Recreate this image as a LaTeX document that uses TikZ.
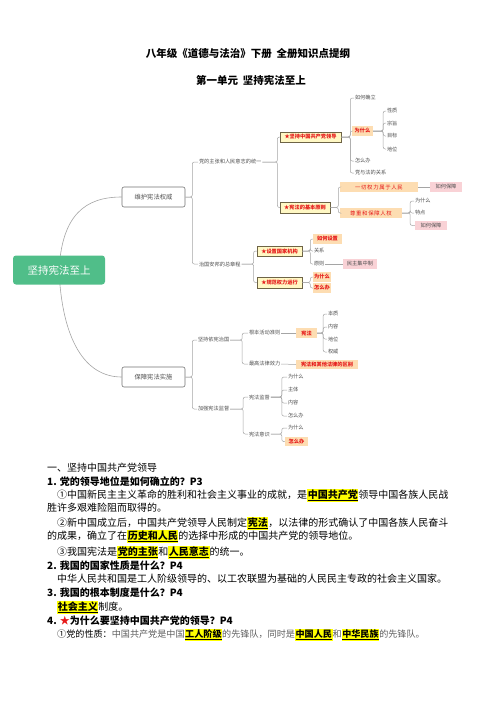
\documentclass[tikz,border=0pt]{standalone}
\usepackage{fontspec}
\setmainfont{Noto Sans CJK SC}
\usetikzlibrary{backgrounds}
\definecolor{rootg}{RGB}{80,190,137}
\definecolor{ln}{RGB}{165,165,165}
\definecolor{tx}{RGB}{80,80,80}
\definecolor{yelbox}{RGB}{255,248,196}
\definecolor{yelbd}{RGB}{110,100,70}
\definecolor{orbox}{RGB}{253,221,178}
\definecolor{pkbox}{RGB}{249,210,214}
\definecolor{hly}{RGB}{255,255,0}
\definecolor{redt}{RGB}{230,25,25}
\definecolor{gtx}{RGB}{95,95,95}
\newcommand\hlt[1]{{\setlength{\fboxsep}{0.6pt}\colorbox{hly}{\underline{\bfseries #1}}}}
\begin{document}
\begin{tikzpicture}[x=1pt,y=-1pt,
  conn/.style={draw=ln, line width=0.5pt, rounded corners=2pt},
  mt/.style={font=\fontsize{5.2}{6}\selectfont, text=tx, inner sep=0.8pt, anchor=west},
  ybox/.style={font=\fontsize{5.2}{6}\selectfont\bfseries, text=redt, fill=yelbox, draw=yelbd, line width=0.5pt, inner sep=0pt, minimum height=10.5pt},
  obox/.style={font=\fontsize{5.2}{6}\selectfont\bfseries, text=redt, fill=orbox, inner sep=0pt, minimum height=9.5pt},
  pbox/.style={font=\fontsize{5.2}{6}\selectfont, text=tx, fill=pkbox, inner sep=0pt, minimum height=9.5pt},
  l1box/.style={font=\fontsize{6.3}{7}\selectfont, text=tx, draw=gray!90!black, fill=white, rounded corners=2pt, line width=0.6pt, minimum width=63pt, minimum height=20pt, inner sep=0pt},
  rootbox/.style={fill=rootg, text=white, rounded corners=3pt, minimum width=92pt, minimum height=29pt, font=\fontsize{10.5}{12}\selectfont, inner sep=0pt},
  body/.style={font=\fontsize{10}{12}\selectfont, anchor=west, inner sep=0pt, text height=8pt, text depth=2pt},
  head/.style={body, font=\fontsize{10}{12}\selectfont\bfseries},
  ttl/.style={font=\fontsize{10.5}{12}\selectfont\bfseries, inner sep=0pt},
  ]
\useasboundingbox (0,0) rectangle (496,702);

% titles
\node[ttl] (t1) at (248,54) {八年级《道德与法治》下册\ \ 全册知识点提纲};
\node[ttl] (t2) at (251,80) {第一单元\ \ 坚持宪法至上};

% mind map
\node[rootbox] (root) at (59,270) {坚持宪法至上};
\node[l1box] (wh) at (153.5,197) {维护宪法权威};
\node[l1box] (bz) at (153.5,377) {保障宪法实施};
\begin{scope}[on background layer]
\fill[white] (0,0) rectangle (496,702);
\draw[ln, line width=0.6pt] (root.center) .. controls (62,215) and (85,197) .. (wh.west);
\draw[ln, line width=0.6pt] (root.center) .. controls (62,340) and (85,377) .. (bz.west);
\end{scope}

\node[mt] (a1) at (198,162) {党的主张和人民意志的统一};
\node[mt] (a2) at (198,264) {治国安邦的总章程};
\node[mt] (b1) at (197,340) {坚持依宪治国};
\node[mt] (b2) at (197,409) {加强宪法监督};
\foreach \c in {a1,a2} \draw[conn] (wh.east) -- ++(7,0) |- (\c.west);
\foreach \c in {b1,b2} \draw[conn] (bz.east) -- ++(7,0) |- (\c.west);

\node[ybox, minimum width=61pt] (c1) at (310.5,137) {★坚持中国共产党领导};
\node[ybox, minimum width=50pt] (c2) at (305,207.5) {★宪法的基本原则};
\node[ybox, minimum width=45pt] (c3) at (279.5,251) {★设置国家机构};
\node[ybox, minimum width=45pt] (c4) at (279.5,282.5) {★规范权力运行};
\foreach \c in {c1,c2} \draw[conn] (a1.east) -- ++(15,0) |- (\c.west);
\foreach \c in {c3,c4} \draw[conn] (a2.east) -- ++(12,0) |- (\c.west);

\node[mt] (d1) at (354,98) {如何确立};
\node[obox, minimum width=21pt] (d2) at (362.5,131) {为什么};
\node[mt] (d3) at (354,161) {怎么办};
\node[mt] (d4) at (354,173) {党与法的关系};
\foreach \c in {d1,d2,d3,d4} \draw[conn] (c1.east) -- ++(9,0) |- (\c.west);

\node[mt] (e1) at (386,111) {性质};
\node[mt] (e2) at (386,123) {宗旨};
\node[mt] (e3) at (386,136) {目标};
\node[mt] (e4) at (386,149) {地位};
\foreach \c in {e1,e2,e3,e4} \draw[conn] (d2.east) -- ++(10,0) |- (\c.west);

\node[obox, font=\fontsize{5.4}{6}\selectfont\addfontfeature{LetterSpace=12}, minimum width=78pt] (d5) at (379,187) {一切权力属于人民};
\node[obox, font=\fontsize{5.4}{6}\selectfont\addfontfeature{LetterSpace=12}, minimum width=62pt] (d6) at (371,213) {尊重和保障人权};
\foreach \c in {d5,d6} \draw[conn] (c2.east) -- ++(8,0) |- (\c.west);
\node[pbox, minimum width=32pt] (f1) at (446,187) {如何保障};
\draw[conn] (d5.east) -- (f1.west);

\node[mt] (f2) at (414,201) {为什么};
\node[mt] (f3) at (414,213) {特点};
\node[pbox, minimum width=32pt] (f4) at (431,225.5) {如何保障};
\foreach \c in {f2,f3,f4} \draw[conn] (d6.east) -- ++(8,0) |- (\c.west);

\node[obox, minimum width=29pt] (g1) at (327.5,239) {如何设置};
\node[mt] (g2) at (313,251) {关系};
\node[mt] (g3) at (313,264) {原则};
\foreach \c in {g1,g2,g3} \draw[conn] (c3.east) -- ++(8,0) |- (\c.west);
\node[pbox, minimum width=34pt] (g4) at (360,264) {民主集中制};
\draw[conn] (g3.east) -- (g4.west);

\node[obox, minimum width=18pt] (g5) at (322,277) {为什么};
\node[obox, minimum width=18pt] (g6) at (322,288) {怎么办};
\foreach \c in {g5,g6} \draw[conn] (c4.east) -- ++(8,0) |- (\c.west);

\node[mt] (h1) at (248,333) {根本活动准则};
\node[mt] (h2) at (248,364) {最高法律效力};
\foreach \c in {h1,h2} \draw[conn] (b1.east) -- ++(12,0) |- (\c.west);
\node[obox, minimum width=21pt] (i1) at (306.5,333) {宪法};
\node[obox, minimum width=62pt] (i2) at (327,364.5) {宪法和其他法律的区别};
\draw[conn] (h1.east) -- (i1.west);
\draw[conn] (h2.east) -- (i2.west);

\node[mt] (j1) at (327,314) {本质};
\node[mt] (j2) at (327,327) {内容};
\node[mt] (j3) at (327,339) {地位};
\node[mt] (j4) at (327,352) {权威};
\foreach \c in {j1,j2,j3,j4} \draw[conn] (i1.east) -- ++(6,0) |- (\c.west);

\node[mt] (h3) at (248,397) {宪法监督};
\node[mt] (h4) at (248,434) {宪法意识};
\foreach \c in {h3,h4} \draw[conn] (b2.east) -- ++(13,0) |- (\c.west);

\node[mt] (k1) at (287,377) {为什么};
\node[mt] (k2) at (287,390) {主体};
\node[mt] (k3) at (287,403) {内容};
\node[mt] (k4) at (287,416) {怎么办};
\foreach \c in {k1,k2,k3,k4} \draw[conn] (h3.east) -- ++(11,0) |- (\c.west);
\node[mt] (k5) at (287,428) {为什么};
\node[obox, minimum width=23pt] (k6) at (296.5,441.5) {怎么办};
\foreach \c in {k5,k6} \draw[conn] (h4.east) -- ++(11,0) |- (\c.west);

% body text
\node[body] (p1) at (47,468) {一、坚持中国共产党领导};
\node[head] (p2) at (47,482) {1. 党的领导地位是如何确立的？P3};
\node[body] (p3) at (57,495) {①中国新民主主义革命的胜利和社会主义事业的成就，是\hlt{中国共产党}领导中国各族人民战};
\node[body] (p4) at (47,508) {胜许多艰难险阻而取得的。};
\node[body] (p5) at (57,523) {②新中国成立后，中国共产党领导人民制定\hlt{宪法}，以法律的形式确认了中国各族人民奋斗};
\node[body] (p6) at (47,536) {的成果，确立了在\hlt{历史和人民}的选择中形成的中国共产党的领导地位。};
\node[body] (p7) at (57,552) {③我国宪法是\hlt{党的主张}和\hlt{人民意志}的统一。};
\node[head] (p8) at (47,566) {2. 我国的国家性质是什么？P4};
\node[body] (p9) at (57,579) {中华人民共和国是工人阶级领导的、以工农联盟为基础的人民民主专政的社会主义国家。};
\node[head] (p10) at (47,593) {3. 我国的根本制度是什么？P4};
\node[body] (p11) at (57,607) {\hlt{社会主义}制度。};
\node[head] (p12) at (47,621) {4. {\color{redt}★}为什么要坚持中国共产党的领导？P4};
\node[body, font=\fontsize{9.1}{11}\selectfont] (p13) at (57,634) {①党的性质：{\color{gtx}中国共产党是中国}\hlt{工人阶级}{\color{gtx}的先锋队，同时是}\hlt{中国人民}{\color{gtx}和}\hlt{中华民族}{\color{gtx}的先锋队。}};
\end{tikzpicture}
\end{document}
